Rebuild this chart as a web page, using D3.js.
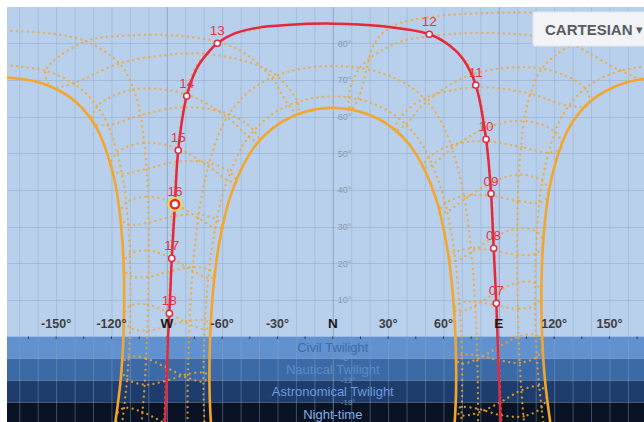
<!DOCTYPE html>
<html><head><meta charset="utf-8">
<script src="https://cdn.jsdelivr.net/npm/d3@7"></script>
<style>html,body{margin:0;padding:0;background:#fff;}svg{display:block;font-family:"Liberation Sans",Arial,sans-serif;}</style>
</head><body><svg id="c" width="644" height="422"></svg>
<script>
// ---------- DATA (azimuth°, altitude°) ----------
const azimuthTicks  = [-150,-120,-90,-60,-30,0,30,60,90,120,150];
const azimuthLabels = ["-150°","-120°","W","-60°","-30°","N","30°","60°","E","120°","150°"];
const altitudeTicks = [10,20,30,40,50,60,70,80];
const horizonTicks  = [-180,-165,-150,-135,-120,-105,-90,-75,-60,-45,-30,-15,0,15,30,45,60,75,90,105,120,135,150,165,180];
const bandNames  = ["Civil Twilight","Nautical Twilight","Astronomical Twilight","Night-time"];
const bandLimits = [[0,-6],[-6,-12],[-12,-18],[-18,-40]];
const bandEdges  = [-6,-12,-18];

const hourLabels = ["07","08","09","10","11","12","13","14","15","16","17","18"];
const hourPoints = [[88.65,9.06],[87.2,24.07],[85.8,38.96],[83.1,53.8],[77.5,68.6],[52.3,82.45],[-62.6,80.0],[-79.2,65.6],[-83.8,50.8],[-85.6,36.1],[-87.3,21.3],[-88.6,6.3]];
const currentHour = "16";
const sunPath = [[91.5,-30],[90.4,-15],[89.3,0],[88.65,9.06],[87.2,24.07],[85.8,38.96],[83.1,53.8],[77.5,68.6],[70.6,75.7],[63.5,79.3],[52.3,82.45],[25.6,84.7],[0,85.35],[-24.8,85.0],[-41.1,84.2],[-54.1,82.5],[-62.6,80.0],[-68.2,77.1],[-73.6,73.3],[-79.2,65.6],[-83.8,50.8],[-85.6,36.1],[-87.3,21.3],[-88.6,6.3],[-89.3,0],[-90.3,-15],[-91.5,-30]];

// day paths (21st of month)
const pathDec = [[118.44,-25.37],[115.05,-11.99],[113.38,1.67],[113.18,15.42],[114.56,29.12],[118.3,42.54],[126.4,55.24],[133.6,61.0],[144.4,65.9],[160.06,69.44],[180,70.77],[-180,70.77],[-160.06,69.44],[-144.4,65.9],[-133.6,61.0],[-126.4,55.24],[-118.3,42.54],[-114.56,29.12],[-113.18,15.42],[-113.38,1.67],[-115.05,-11.99],[-118.44,-25.37]];
const pathJun = [[65.4,-29.12],[66.8,-15.42],[66.6,-1.67],[65.0,11.99],[61.6,25.37],[55.6,38.16],[45.2,49.75],[37.4,54.7],[27.2,58.7],[14.5,61.4],[0,62.4],[-14.5,61.4],[-27.2,58.7],[-37.4,54.7],[-45.2,49.75],[-55.6,38.16],[-61.6,25.37],[-65.0,11.99],[-66.6,-1.67],[-66.8,-15.42],[-65.4,-29.12]];
const pathJan = [[114.9,-26.3],[111.7,-12.55],[109.95,1.44],[109.7,15.52],[110.8,29.57],[113.9,43.43],[121.1,56.74],[127.85,62.9],[138.7,68.4],[155.9,72.5],[180,74.1],[-180,74.1],[-155.9,72.5],[-138.7,68.4],[-127.85,62.9],[-121.1,56.74],[-113.9,43.43],[-110.8,29.57],[-109.7,15.52],[-109.95,1.44],[-111.7,-12.55],[-114.9,-26.3]];
const pathFeb = [[104.6,-28.45],[102.1,-13.9],[100.7,0.78],[100.0,15.5],[99.9,30.24],[100.9,44.95],[104.0,59.6],[107.5,66.8],[114.5,73.8],[131.6,80.1],[150.5,82.5],[180,83.5],[-180,83.5],[-150.5,82.5],[-131.6,80.1],[-114.5,73.8],[-107.5,66.8],[-104.0,59.6],[-100.9,44.95],[-99.9,30.24],[-100.0,15.5],[-100.7,0.78],[-102.1,-13.9],[-104.6,-28.45]];
const pathMar = [[92.0,-29.95],[90.7,-15.0],[89.6,0],[88.5,14.9],[87.1,29.9],[85.25,44.8],[82.0,59.7],[79.0,67.05],[73.3,74.3],[58.6,81.2],[39.3,84.1],[0,85.4],[-39.3,84.1],[-58.6,81.2],[-73.3,74.3],[-79.0,67.05],[-82.0,59.7],[-85.25,44.8],[-87.1,29.9],[-88.5,14.9],[-89.6,0],[-90.7,-15.0],[-92.0,-29.95]];
const pathApr = [[78.6,-30.2],[78.7,-15.5],[78.0,-0.87],[76.6,13.7],[74.0,28.2],[69.5,42.4],[61.2,56.05],[53.8,62.4],[42.5,67.97],[24.6,72.15],[0,73.8],[-24.6,72.15],[-42.5,67.97],[-53.8,62.4],[-61.2,56.05],[-69.5,42.4],[-74.0,28.2],[-76.6,13.7],[-78.0,-0.87],[-78.7,-15.5],[-78.6,-30.2]];
const pathMay = [[69.0,-29.55],[70.1,-15.84],[69.75,-1.46],[68.1,12.5],[64.9,26.25],[59.25,39.5],[49.2,51.7],[41.2,57.0],[30.5,61.4],[16.5,64.4],[0,65.5],[-16.5,64.4],[-30.5,61.4],[-41.2,57.0],[-49.2,51.7],[-59.25,39.5],[-64.9,26.25],[-68.1,12.5],[-69.75,-1.46],[-70.1,-15.84],[-69.0,-29.55]];

// hour analemmas (Jan..Dec)
const ana05 = [[113.28,-19.33],[103.45,-21.76],[91.26,-21.47],[78.67,-19.72],[69.83,-19.27],[66.33,-19.98],[69.65,-21.5],[78.66,-20.79],[90.95,-17.89],[102.23,-14.67],[111.93,-13.55],[115.98,-15.64]];
const ana06 = [[110.81,-5.46],[101.46,-7.15],[90.08,-6.5],[78.2,-5.07],[69.84,-5.06],[66.67,-6.25],[69.9,-7.4],[78.25,-6.14],[89.81,-2.9],[100.77,0.0],[110.08,0.42],[113.84,-2.06]];
const ana07 = [[109.82,8.58],[100.38,7.55],[88.98,8.45],[77.0,9.52],[68.51,9.01],[65.53,7.44],[68.78,6.73],[77.1,8.45],[88.71,12.02],[100.04,14.72],[109.72,14.49],[113.23,11.67]];
const ana08 = [[110.26,22.64],[99.95,22.28],[87.71,23.4],[74.75,24.04],[65.7,22.81],[62.73,20.91],[66.22,20.57],[74.94,22.98],[87.37,27.01],[99.9,29.46],[110.72,28.54],[114.18,25.38]];
const ana09 = [[112.37,36.6],[100.36,37.01],[86.05,38.35],[70.79,38.32],[60.66,36.19],[57.6,33.9],[61.58,34.03],[71.12,37.29],[85.61,41.92],[100.85,44.17],[113.67,42.42],[117.28,38.88]];
const ana10 = [[117.55,50.18],[102.33,51.69],[83.41,53.25],[63.58,52.13],[51.71,48.65],[48.67,45.89],[53.35,46.66],[64.19,51.14],[82.63,56.82],[103.84,58.82],[120.57,55.77],[124.19,51.77]];
const ana11 = [[127.9,62.9],[107.2,66.2],[78.2,68.0],[48.97,64.78],[35.85,59.2],[34.0,56.03],[39.35,57.76],[50.64,63.96],[75.5,71.5],[113.75,73.05],[137.1,67.6],[138.5,63.2]];
const ana12 = [[156.2,72.5],[130.2,79.6],[115.4,81.5],[87.8,82.8],[53.5,82.0],[33.4,79.8],[14.7,73.3],[8.4,65.2],[9.8,62.0],[13.7,64.75],[18.3,72.9],[20.0,76.6],[23.1,80.4],[32.2,84.6],[60.2,87.6],[154.4,87.0],[173.0,83.5],[176.0,74.1],[168.75,70.4]];
const ana13 = [[-155.7,72.5],[-133.9,80.6],[-117.1,81.9],[-88.3,82.2],[-61.8,80.35],[-47.95,77.3],[-33.2,70.6],[-23.9,63.1],[-19.0,60.7],[-19.1,64.0],[-30.4,71.2],[-39.5,73.7],[-52.1,75.7],[-69.5,77.1],[-85.1,77.07],[-115.6,74.5],[-140.7,69.1],[-152.3,68.1]];
const ana14 = [[-127.76,62.8],[-108.06,67.36],[-79.4,66.07],[-56.96,59.69],[-45.2,54.35],[-40.0,53.05],[-42.6,56.08],[-55.87,60.62],[-80.84,62.54],[-104.37,60.37],[-122.1,57.65],[-130.34,58.39]];
const ana15 = [[-117.45,49.99],[-102.57,52.86],[-83.84,51.25],[-67.12,46.32],[-56.74,42.55],[-52.14,42.02],[-55.1,44.54],[-66.51,47.31],[-84.62,47.68],[-101.06,45.73],[-114.43,44.4],[-120.51,46.01]];
const ana16 = [[-112.33,36.4],[-100.44,38.18],[-86.3,36.35],[-72.7,32.28],[-63.5,29.56],[-59.6,29.63],[-62.6,31.72],[-72.4,33.3],[-86.7,32.8],[-100.85,31.0],[-111.0,30.6],[-115.6,32.8]];
const ana17 = [[-110.24,22.45],[-99.95,23.46],[-87.89,21.4],[-75.85,17.86],[-67.3,15.94],[-63.87,16.45],[-66.78,18.18],[-75.66,18.92],[-88.23,17.8],[-99.99,16.28],[-109.78,16.55],[-113.56,19.16]];
const ana18 = [[-109.83,8.38],[-100.32,8.73],[-89.12,6.45],[-77.6,3.32],[-69.34,2.03],[-66.07,2.88],[-69.07,4.3],[-77.5,4.38],[-89.39,2.88],[-100.66,1.56],[-109.93,2.47],[-113.33,5.42]];
const ana19 = [[-110.84,-5.65],[-101.34,-5.97],[-90.22,-8.5],[-78.5,-11.29],[-70.01,-12.25],[-66.73,-10.84],[-69.96,-9.9],[-78.45,-10.2],[-90.49,-12.1],[-102.03,-13.12],[-111.57,-11.53],[-114.59,-8.26]];
const ana20 = [[-113.32,-19.52],[-103.25,-20.59],[-91.44,-23.48],[-78.63,-25.98],[-69.35,-26.12],[-65.87,-24.56],[-69.45,-23.89],[-78.64,-24.91],[-91.75,-27.1],[-104.47,-27.68],[-114.67,-25.3],[-117.51,-21.72]];

const solidPaths  = [pathDec, pathJun];
const dottedPaths = [pathJan, pathFeb, pathMar, pathApr, pathMay];
const analemmas   = [ana05,ana06,ana07,ana08,ana09,ana10,ana11,ana12,ana13,ana14,ana15,ana16,ana17,ana18,ana19,ana20];

// ---------- STYLE ----------
const W = 644, H = 422, L = 7, T = 7;
const bandFill = ["#6191ce","#3c6aa7","#1f3d6c","#0a1323"];
const bandText = ["#3f6cab","#5e8bc8","#6c9ce0","#88afe6"];
const ORANGE = "#f4a62a", RED = "#e5283f";

const x = d3.scaleLinear().domain([-180,180]).range([0.8,664.8]);
const y = d3.scaleLinear().domain([0,90]).range([336.5,6.6]);

const svg = d3.select("#c");
svg.append("defs").append("clipPath").attr("id","plot")
  .append("rect").attr("x",L).attr("y",T).attr("width",W-L).attr("height",H-T);
const g = svg.append("g").attr("clip-path","url(#plot)");

// sky + bands
g.append("rect").attr("x",L).attr("y",T).attr("width",W).attr("height",y(0)-T).attr("fill","#b8d0eb");
g.selectAll("rect.band").data(bandLimits).join("rect").attr("class","band")
  .attr("x",L).attr("y",d=>y(d[0])).attr("width",W).attr("height",d=>y(d[1])-y(d[0]))
  .attr("fill",(d,i)=>bandFill[i]);

// grid
g.append("g").selectAll("line").data(d3.range(-180,181,10)).join("line")
  .attr("x1",d=>x(d)+0.5).attr("x2",d=>x(d)+0.5).attr("y1",T).attr("y2",H)
  .attr("stroke",d=>(d%90===0)?"#7d98bf":"#8aa5c9").attr("stroke-opacity",d=>(d%90===0)?0.7:0.4).attr("stroke-width",1);
g.append("g").selectAll("line").data(altitudeTicks).join("line")
  .attr("x1",L).attr("x2",W).attr("y1",d=>Math.round(y(d))+0.5).attr("y2",d=>Math.round(y(d))+0.5)
  .attr("stroke","#8aa5c9").attr("stroke-opacity",0.45);
g.append("g").selectAll("line").data(horizonTicks).join("line")
  .attr("x1",d=>x(d)).attr("x2",d=>x(d)).attr("y1",y(0)).attr("y2",y(0)+2.5)
  .attr("stroke","#2c3e5c").attr("stroke-width",1);

// altitude labels
g.append("g").selectAll("text").data(altitudeTicks).join("text")
  .attr("x",x(0)+5).attr("y",d=>y(d)+3.5).attr("font-size",9).attr("fill","#8d97a6").text(d=>d+"°");

// orange lines
const line = d3.line().x(d=>x(d[0])).y(d=>y(d[1])).curve(d3.curveCatmullRom.alpha(0.5));
const loop = d3.line().x(d=>x(d[0])).y(d=>y(d[1])).curve(d3.curveCatmullRomClosed.alpha(0.5));
function splitWrap(pts){
  const segs=[[pts[0]]];
  for(let i=1;i<pts.length;i++){
    if(Math.abs(pts[i][0]-pts[i-1][0])>180) segs.push([]);
    segs[segs.length-1].push(pts[i]);
  }
  return segs;
}
const dotted = {stroke:ORANGE, "stroke-width":2.3, "stroke-dasharray":"0.01 5.4", "stroke-linecap":"round", "stroke-opacity":0.85, fill:"none"};
function applyStyle(sel,s){ for(const k in s) sel.attr(k,s[k]); return sel; }

applyStyle(g.append("g").selectAll("path").data(analemmas).join("path").attr("d",loop), dotted);
applyStyle(g.append("g").selectAll("path").data(dottedPaths.flatMap(splitWrap)).join("path").attr("d",line), dotted);
g.append("g").selectAll("path").data(solidPaths.flatMap(splitWrap)).join("path")
  .attr("d",line).attr("fill","none").attr("stroke",ORANGE).attr("stroke-width",2.6);

// sun path
g.append("path").datum(sunPath).attr("d",line).attr("fill","none").attr("stroke",RED).attr("stroke-width",2.5);
const hp = hourPoints.map((p,i)=>({p, label:hourLabels[i]}));
g.append("g").selectAll("circle").data(hp.filter(d=>d.label===currentHour)).join("circle")
  .attr("cx",d=>x(d.p[0])).attr("cy",d=>y(d.p[1])).attr("r",7.5).attr("fill","#f1de3c").attr("fill-opacity",0.9);
g.append("g").selectAll("circle").data(hp).join("circle")
  .attr("cx",d=>x(d.p[0])).attr("cy",d=>y(d.p[1]))
  .attr("r",d=>d.label===currentHour?4.2:3.1).attr("fill","#fff").attr("stroke",RED)
  .attr("stroke-width",d=>d.label===currentHour?2.4:1.5);
g.append("g").selectAll("text").data(hp).join("text")
  .attr("x",d=>x(d.p[0])).attr("y",d=>y(d.p[1])-8).attr("text-anchor","middle")
  .attr("font-size",13.5).attr("fill","#e6324b").text(d=>d.label);

// band labels
g.append("g").selectAll("text").data(bandLimits).join("text")
  .attr("x",x(0)).attr("y",(d,i)=> i<3 ? (y(d[0])+y(d[1]))/2+5 : y(d[0])+17)
  .attr("text-anchor","middle").attr("font-size",13).attr("fill",(d,i)=>bandText[i]).text((d,i)=>bandNames[i]);
g.append("g").selectAll("text").data(bandEdges).join("text")
  .attr("x",x(0)+8).attr("y",d=>y(d)+3).attr("font-size",8).attr("fill","#7c9fd0").attr("fill-opacity",0.8).text(d=>d+"°");

// azimuth labels
g.append("g").selectAll("text").data(azimuthTicks).join("text")
  .attr("x",d=>x(d)).attr("y",y(0)-8.5).attr("text-anchor","middle")
  .attr("font-size",(d,i)=>/^[NEWS]$/.test(azimuthLabels[i])?13.5:12.5).attr("font-weight","bold")
  .attr("fill",(d,i)=>/^[NEWS]$/.test(azimuthLabels[i])?"#1a1a1a":"#3e3e3e")
  .text((d,i)=>azimuthLabels[i]);

// projection button
const btn = svg.append("g");
btn.append("rect").attr("x",533).attr("y",12).attr("width",130).attr("height",34).attr("rx",2)
  .attr("fill","#f1f3f6").attr("stroke","#e2e6ec");
btn.append("text").attr("x",545).attr("y",35).attr("font-size",15).attr("font-weight","bold")
  .attr("fill","#575c63").text("CARTESIAN");
btn.append("text").attr("x",636).attr("y",34).attr("font-size",13).attr("fill","#575c63").text("▾");
</script></body></html>
